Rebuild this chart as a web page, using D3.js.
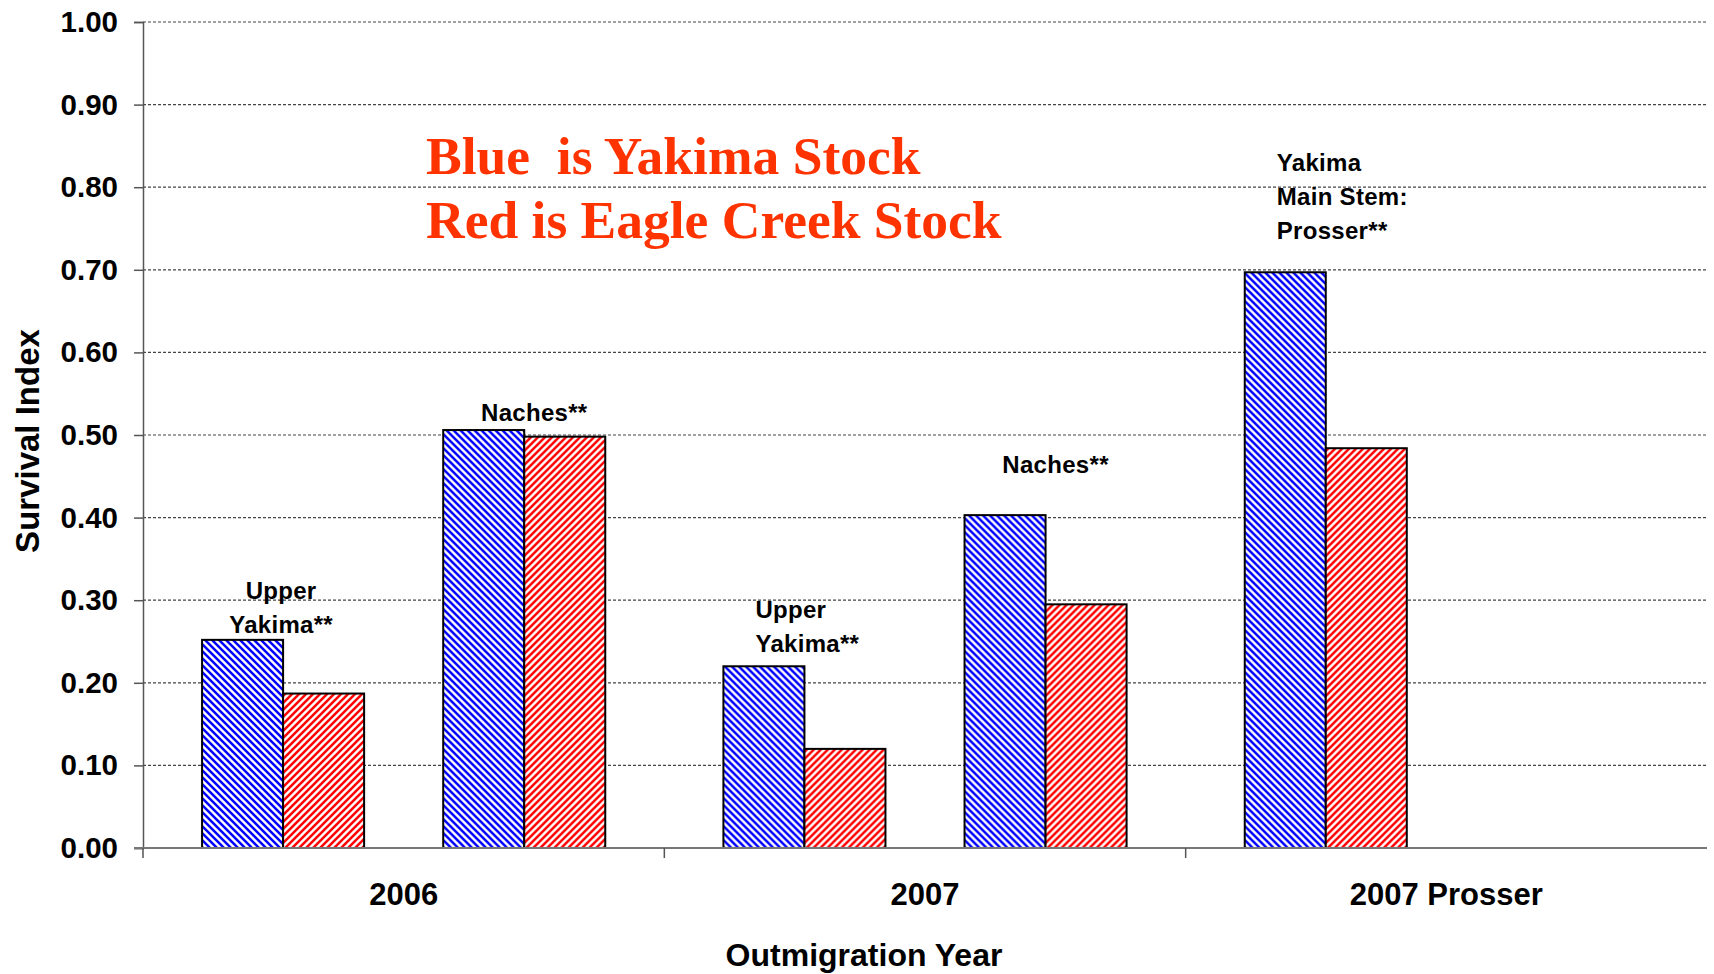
<!DOCTYPE html>
<html>
<head>
<meta charset="utf-8">
<script src="https://cdn.jsdelivr.net/npm/d3@7"></script>
<style>
    body { margin: 0; background: #fff; }
    text { font-family: "Liberation Sans", Arial, sans-serif; font-weight: bold; }
</style>
</head>
<body>
<div id="chart"></div>
<script>
// categories on the x axis
let categories = ["2006", "2007", "2007 Prosser"]
// one entry per site (pair of bars)
let siteYear = ["2006", "2006", "2007", "2007", "2007 Prosser"]
let siteSlot = ["first", "second", "first", "second", "first"]
let siteLines = [["Upper", "Yakima**"], ["Naches**"], ["Upper", "Yakima**"], ["Naches**"], ["Yakima", "Main Stem:", "Prosser**"]]
// survival index
let yakimaStock = [0.252, 0.506, 0.220, 0.403, 0.697]
let eagleCreekStock = [0.187, 0.498, 0.120, 0.295, 0.484]
// where the last line of each site label sits, in survival index units
let labelValue = [0.26, 0.517, 0.237, 0.454, 0.737]
let yTicks = [0, 0.1, 0.2, 0.3, 0.4, 0.5, 0.6, 0.7, 0.8, 0.9, 1.0]
let stocks = ["yakima", "eagle"]
let legendLines = ["Blue  is Yakima Stock", "Red is Eagle Creek Stock"]

let width = 1714, height = 974
let margin = {top: 22, right: 7, bottom: 126, left: 143}

let svg = d3.select("#chart")
    .append("svg")
        .attr("width", width)
        .attr("height", height)

let defs = svg.append("defs")

let p = 7
let blue = defs.append("pattern")
    .attr("id", "hatchBlue")
    .attr("patternUnits", "userSpaceOnUse")
    .attr("width", p).attr("height", p)
blue.append("rect").attr("width", p).attr("height", p).attr("fill", "#fff")
blue.append("path")
    .attr("d", `M-1,-1L${p+1},${p+1}M-1,${p-1}L1,${p+1}M${p-1},-1L${p+1},1`)
    .attr("stroke", "#0000ff").attr("stroke-width", 2.5)

let red = defs.append("pattern")
    .attr("id", "hatchRed")
    .attr("patternUnits", "userSpaceOnUse")
    .attr("width", p).attr("height", p)
red.append("rect").attr("width", p).attr("height", p).attr("fill", "#fff")
red.append("path")
    .attr("d", `M-1,${p+1}L${p+1},-1M-1,1L1,-1M${p-1},${p+1}L${p+1},${p-1}`)
    .attr("stroke", "#ff0000").attr("stroke-width", 2.5)

let x0 = d3.scaleBand()
    .domain(categories)
    .range([margin.left, width - margin.right])

let x1 = d3.scaleBand()
    .domain(["first", "second"])
    .range([0, x0.bandwidth()])
    .paddingInner(0.328)
    .paddingOuter(0.245)

let x2 = d3.scaleBand()
    .domain(stocks)
    .range([0, x1.bandwidth()])

let y = d3.scaleLinear()
    .domain([0, 1])
    .range([height - margin.bottom, margin.top])

// grid
svg.append("g")
    .selectAll("line")
    .data(yTicks.filter(d => d > 0))
    .enter()
    .append("line")
        .attr("x1", margin.left)
        .attr("x2", width - margin.right)
        .attr("y1", d => y(d))
        .attr("y2", d => y(d))
        .attr("stroke", "#444")
        .attr("stroke-width", 1.2)
        .attr("stroke-dasharray", "3,2")

// y axis
let yAxis = svg.append("g")
    .attr("transform", "translate(" + margin.left + ",0)")
    .call(d3.axisLeft(y).tickValues(yTicks).tickFormat(d3.format(".2f")).tickSize(9).tickPadding(16))
yAxis.select(".domain").attr("stroke", "#555").attr("stroke-width", 1.5)
yAxis.selectAll(".tick line").attr("stroke", "#555").attr("stroke-width", 1.5)
yAxis.selectAll("text")
    .style("font-size", "29.5px")
    .style("font-family", "'Liberation Sans', Arial, sans-serif")
    .style("font-weight", "bold")
    .attr("fill", "#000")

// bars
let rows = siteYear.map((c, i) => ({
    i: i, cat: c, slot: siteSlot[i],
    values: [{stock: "yakima", v: yakimaStock[i]}, {stock: "eagle", v: eagleCreekStock[i]}]
}))

let site = svg.append("g")
    .selectAll("g")
    .data(rows)
    .enter()
    .append("g")
        .attr("transform", d => "translate(" + (x0(d.cat) + x1(d.slot)) + ",0)")

site.selectAll("rect")
    .data(d => d.values)
    .enter()
    .append("rect")
        .attr("x", d => x2(d.stock))
        .attr("width", x2.bandwidth())
        .attr("y", d => y(d.v))
        .attr("height", d => y(0) - y(d.v))
        .attr("fill", d => d.stock == "yakima" ? "url(#hatchBlue)" : "url(#hatchRed)")
        .attr("stroke", "#000")
        .attr("stroke-width", 2)

// bottom axis
let bottom = svg.append("g")
bottom.append("line")
    .attr("x1", margin.left - 9)
    .attr("x2", width - margin.right)
    .attr("y1", y(0)).attr("y2", y(0))
    .attr("stroke", "#777").attr("stroke-width", 2)
bottom.selectAll(".ctick")
    .data(categories)
    .enter()
    .append("line")
        .attr("class", "ctick")
        .attr("x1", d => x0(d)).attr("x2", d => x0(d))
        .attr("y1", y(0)).attr("y2", y(0) + 10)
        .attr("stroke", "#555").attr("stroke-width", 1.5)
bottom.selectAll("text")
    .data(categories)
    .enter()
    .append("text")
        .attr("x", d => x0(d) + x0.bandwidth() / 2)
        .attr("y", 905)
        .attr("text-anchor", "middle")
        .style("font-size", "31px")
        .text(d => d)

// site labels
let leftAligned = [2, 4]
site.each(function(d) {
    let g = d3.select(this)
    let left = leftAligned.indexOf(d.i) >= 0
    let n = siteLines[d.i].length
    g.selectAll("text")
        .data(siteLines[d.i])
        .enter()
        .append("text")
            .attr("x", left ? 32 : x1.bandwidth() / 2 + (n == 1 ? 10 : -2))
            .attr("y", (t, k) => y(labelValue[d.i]) - (n - 1 - k) * 34)
            .attr("text-anchor", left ? "start" : "middle")
            .style("font-size", "24px")
            .style("letter-spacing", "0.3px")
            .text(t => t)
})

// axis titles
svg.append("text")
    .attr("x", 864)
    .attr("y", 966)
    .attr("text-anchor", "middle")
    .style("font-size", "32px")
    .text("Outmigration Year")

svg.append("text")
    .attr("transform", "translate(39,441) rotate(-90)")
    .attr("text-anchor", "middle")
    .style("font-size", "33px")
    .text("Survival Index")

// legend note
svg.append("g")
    .selectAll("text")
    .data(legendLines)
    .enter()
    .append("text")
        .attr("x", 426)
        .attr("y", (d, i) => 174 + i * 64)
        .attr("fill", "#ff3300")
        .style("font-family", "'Liberation Serif', 'Times New Roman', serif")
        .style("font-size", "53.5px")
        .style("white-space", "pre")
        .text(d => d)
</script>
</body>
</html>
